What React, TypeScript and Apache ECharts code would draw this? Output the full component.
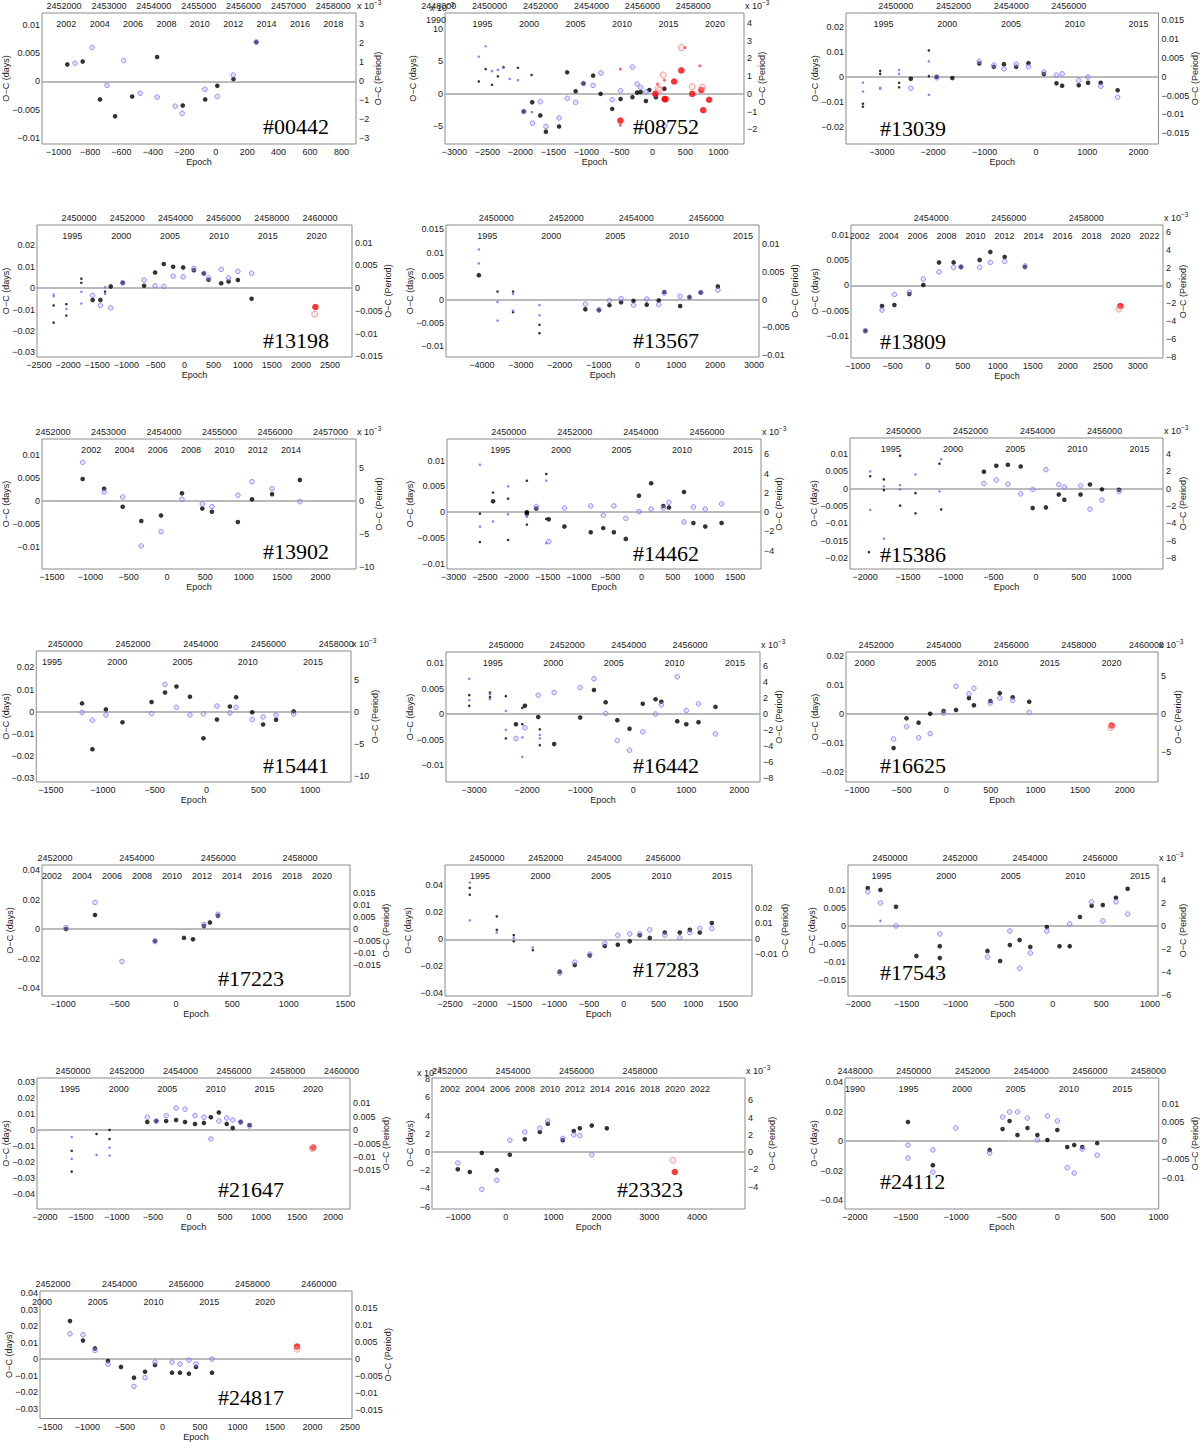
import React, { useEffect, useRef } from "react";
import * as echarts from "echarts";

type Pt = [number, number];

// ---------------- data (epoch, O-C days) ----------------
// #00442
const d00442Black: Pt[] = [[-945,0.0030],[-847,0.0035],[-737,-0.0032],[-641,-0.0062],[-532,-0.0027],[-373,0.0043],[-210,-0.0043],[-67,-0.0032],[10,-0.0008],[113,0.0004],[258,0.0069]];
const d00442Blue: Pt[] = [[-896,0.0032],[-787,0.0060],[-692,-0.0007],[-586,0.0037],[-481,-0.0021],[-373,-0.0028],[-258,-0.0044],[-214,-0.0057],[-69,-0.0014],[10,-0.0027],[111,0.0011],[258,0.0070]];
// #08752
const d08752BlackS: Pt[] = [[-2630,0.0019],[-2526,0.0038],[-2431,0.0014],[-2341,0.0027],[-2256,0.0041],[-2038,0.0040],[-1830,0.0029]];
const d08752Black: Pt[] = [[-1949,-0.0027],[-1821,-0.0013],[-1698,-0.0033],[-1613,-0.0058],[-1414,-0.0050],[-1291,0.0033],[-1163,0.0004],[-1045,0.0016],[-898,0.0028],[-784,0.0000],[-609,-0.0023],[-482,-0.0008],[-302,-0.0005],[-231,0.0002],[-178,0.0003],[-98,-0.0011],[-46,0.0006],[54,-0.0005],[182,0.0008]];
const d08752Blue: Pt[] = [[-1949,-0.0027],[-1816,-0.0045],[-1698,-0.0012],[-1613,-0.0050],[-1414,-0.0037],[-1291,-0.0007],[-1163,-0.0013],[-1045,0.0016],[-898,0.0013],[-779,0.0032],[-609,-0.0009],[-482,0.0005],[-302,0.0041],[-231,0.0015],[-178,0.0010],[-98,0.0003],[54,-0.0001],[186,-0.0049]];
const d08752BlueS: Pt[] = [[-2630,0.0057],[-2526,0.0073],[-2431,0.0035],[-2341,0.0037],[-2256,0.0040],[-2162,0.0023],[-2038,0.0021],[-1826,-0.0028]];
const d08752Red: Pt[] = [[-486,-0.0041],[44,0.0000],[182,-0.0008],[201,-0.0008],[329,0.0019],[438,0.0036],[604,0.0000],[741,0.0006],[770,-0.0025],[860,-0.0009]];
const d08752RedO: Pt[] = [[438,0.0071],[163,0.0029],[90,0.0008],[109,0.0006],[604,0.0011],[756,0.0010]];
const d08752RedS: Pt[] = [[-486,0.0038],[-486,-0.0048],[78,0.0015],[182,0.0021],[494,0.0071],[718,0.0043]];
// #13039
const d13039BlackS: Pt[] = [[-3369,-0.0108],[-3369,-0.0120],[-3033,0.0024],[-3033,0.0012],[-2664,-0.0024],[-2664,-0.0042],[-2085,0.0106],[-2085,0.0003]];
const d13039BlueS: Pt[] = [[-3369,-0.0023],[-3369,-0.0059],[-3033,-0.0044],[-3033,-0.0048],[-2664,0.0028],[-2664,0.0012],[-2085,0.0062],[-2085,-0.0072]];
const d13039Black: Pt[] = [[-2437,-0.0008],[-1933,0.0000],[-1628,-0.0005],[-1104,0.0054],[-819,0.0040],[-623,0.0051],[-384,0.0040],[-145,0.0055],[155,0.0011],[401,-0.0026],[511,-0.0036],[835,-0.0034],[1016,-0.0024],[1262,-0.0024],[1592,-0.0054]];
const d13039Blue: Pt[] = [[-2437,-0.0046],[-1933,-0.0004],[-1104,0.0062],[-819,0.0047],[-623,0.0032],[-384,0.0051],[-145,0.0040],[155,0.0019],[401,0.0007],[511,0.0012],[835,-0.0015],[1016,-0.0001],[1262,-0.0038],[1592,-0.0082]];
// #13198
const d13198BlackS: Pt[] = [[-2248,-0.0081],[-2248,-0.0161],[-2030,-0.0075],[-2030,-0.0128],[-1772,0.0044],[-1772,0.0025],[-1365,-0.0016]];
const d13198BlueS: Pt[] = [[-2248,-0.0030],[-2248,-0.0038],[-2030,-0.0097],[-1772,-0.0017],[-1772,-0.0072],[-1365,0.0005],[-1365,-0.0027]];
const d13198Black: Pt[] = [[-1577,-0.0055],[-1445,-0.0055],[-1267,0.0008],[-1061,0.0025],[-694,0.0011],[-505,0.0073],[-356,0.0113],[-195,0.0100],[-23,0.0097],[161,0.0084],[333,0.0069],[413,0.0039],[631,0.0023],[757,0.0031],[917,0.0038],[1153,-0.0050]];
const d13198Blue: Pt[] = [[-1577,-0.0034],[-1445,-0.0080],[-1267,-0.0092],[-1061,0.0025],[-694,0.0038],[-505,0.0011],[-356,0.0008],[-195,0.0056],[-23,0.0053],[161,0.0092],[333,0.0069],[413,0.0048],[631,0.0088],[757,0.0048],[917,0.0078],[1153,0.0070]];
const d13198Red: Pt[] = [[2248,-0.0088]];
const d13198RedO: Pt[] = [[2237,-0.0122]];
// #13567
const d13567BlackS: Pt[] = [[-3600,0.0017],[-3200,0.0017],[-3200,-0.0027],[-2520,-0.0054],[-2520,-0.0072]];
const d13567BlueS: Pt[] = [[-4080,0.0107],[-4080,0.0077],[-3600,-0.0005],[-3600,-0.0045],[-3200,0.0012],[-3200,-0.0024],[-2520,-0.0012],[-2520,-0.0034]];
const d13567Black: Pt[] = [[-4080,0.0052],[-1340,-0.0021],[-990,-0.0023],[-720,-0.0012],[-420,-0.0006],[-100,-0.0003],[240,-0.0011],[550,-0.0002],[690,0.0016],[1100,-0.0014],[1340,0.0005],[1630,0.0015],[2070,0.0028]];
const d13567Blue: Pt[] = [[-1340,-0.0010],[-990,-0.0022],[-720,-0.0002],[-420,0.0002],[-100,-0.0012],[240,0.0001],[550,-0.0011],[690,0.0014],[1100,0.0007],[1340,0.0005],[1630,0.0015],[2070,0.0020]];
// #13809
const d13809Black: Pt[] = [[-890,-0.0091],[-652,-0.0041],[-475,-0.0039],[-262,-0.0017],[-62,0.0001],[162,0.0046],[371,0.0046],[476,0.0037],[743,0.0051],[895,0.0067],[1100,0.0057],[1390,0.0037]];
const d13809Blue: Pt[] = [[-890,-0.0090],[-652,-0.0049],[-475,-0.0018],[-262,-0.0013],[-62,0.0013],[162,0.0027],[371,0.0036],[476,0.0037],[743,0.0036],[895,0.0046],[1100,0.0048],[1390,0.0039]];
const d13809Red: Pt[] = [[2752,-0.0041]];
const d13809RedO: Pt[] = [[2733,-0.0047]];
// #13902
const d13902Black: Pt[] = [[-1100,0.0048],[-820,0.0027],[-578,-0.0012],[-335,-0.0043],[-78,-0.0031],[195,0.0017],[460,-0.0016],[585,-0.0023],[924,-0.0045],[1108,0.0004],[1370,0.0015],[1732,0.0046]];
const d13902Blue: Pt[] = [[-1100,0.0084],[-820,0.0020],[-578,0.0009],[-335,-0.0097],[-78,-0.0066],[195,0.0004],[460,-0.0006],[585,-0.0012],[924,0.0013],[1108,0.0042],[1370,0.0027],[1732,-0.0001]];
// #14462
const d14462BlackS: Pt[] = [[-2580,-0.0003],[-2580,-0.0058],[-2370,0.0038],[-2130,0.0026],[-2130,-0.0054],[-1830,0.0061],[-1830,-0.0024],[-1520,0.0074],[-1520,-0.0013]];
const d14462Black: Pt[] = [[-2370,0.0021],[-1830,0.0000],[-1830,-0.0003],[-1680,0.0007],[-1480,-0.0014],[-1230,-0.0028],[-810,-0.0039],[-610,-0.0031],[-440,-0.0039],[-250,-0.0052],[-40,0.0032],[155,0.0056],[350,0.0012],[440,0.0009],[680,0.0039],[830,-0.0021],[1020,-0.0028],[1280,-0.0021]];
const d14462BlueS: Pt[] = [[-2580,0.0092],[-2580,-0.0028],[-2370,-0.0018],[-2130,0.0050],[-2130,-0.0004],[-1830,-0.0007],[-1830,-0.0009],[-1520,0.0061],[-1520,-0.0060]];
const d14462Blue: Pt[] = [[-1680,0.0011],[-1480,-0.0057],[-1230,0.0008],[-810,0.0012],[-610,-0.0006],[-440,0.0012],[-250,-0.0012],[-40,0.0001],[155,0.0006],[350,0.0008],[440,0.0019],[680,-0.0019],[830,0.0010],[1020,0.0006],[1280,0.0016]];
// #15386
const d15386BlackS: Pt[] = [[-1940,0.0036],[-1780,0.0027],[-1780,-0.0004],[-1590,0.0095],[-1590,-0.0049],[-1410,-0.0013],[-1410,-0.0071],[-1130,0.0072],[-1110,-0.0060],[-1955,-0.0183]];
const d15386BlueS: Pt[] = [[-1940,0.0050],[-1940,-0.0061],[-1780,0.0007],[-1780,-0.0144],[-1590,0.0010],[-1590,-0.0002],[-1410,0.0041],[-1110,0.0085],[-1130,-0.0008]];
const d15386Black: Pt[] = [[-610,0.0049],[-465,0.0066],[-330,0.0069],[-180,0.0064],[-40,-0.0056],[115,-0.0054],[265,-0.0017],[330,-0.0032],[520,-0.0017],[630,0.0012],[770,-0.0002],[970,-0.0003]];
const d15386Blue: Pt[] = [[-610,0.0015],[-465,0.0025],[-330,0.0013],[-180,-0.0015],[-40,-0.0002],[115,0.0055],[265,0.0012],[330,0.0005],[520,0.0009],[630,-0.0059],[770,-0.0033],[970,-0.0008]];
// #15441
const d15441Black: Pt[] = [[-1200,0.0038],[-1100,-0.0168],[-970,0.0011],[-810,-0.0047],[-530,0.0044],[-400,0.0087],[-290,0.0114],[-160,0.0068],[-30,-0.0119],[100,-0.0035],[225,0.0024],[285,0.0066],[440,-0.0002],[545,-0.0057],[670,-0.0036],[840,0.0002]];
const d15441Blue: Pt[] = [[-1200,-0.0003],[-1100,-0.0038],[-970,-0.0014],[-530,-0.0008],[-400,0.0123],[-290,0.0020],[-160,-0.0014],[-30,-0.0009],[100,0.0026],[225,-0.0005],[285,0.0020],[440,-0.0035],[545,-0.0023],[670,-0.0015],[840,-0.0010]];
// #16442
const d16442BlackS: Pt[] = [[-3090,0.0037],[-3090,0.0016],[-2700,0.0042],[-2700,0.0033],[-2400,0.0035],[-2400,-0.0048],[-2090,0.0012],[-2090,-0.0020],[-1760,-0.0030],[-1760,-0.0061]];
const d16442BlueS: Pt[] = [[-3090,0.0069],[-3090,0.0027],[-2700,0.0039],[-2700,0.0029],[-2400,0.0006],[-2400,-0.0031],[-2090,-0.0046],[-2090,-0.0084],[-1760,-0.0041],[-1760,-0.0048]];
const d16442Black: Pt[] = [[-2210,-0.0020],[-2040,0.0016],[-1790,-0.0006],[-1490,-0.0059],[-1000,-0.0007],[-740,0.0047],[-520,0.0023],[-300,-0.0012],[-70,-0.0029],[180,0.0020],[420,0.0029],[530,0.0024],[830,-0.0014],[1000,-0.0020],[1230,-0.0016],[1550,0.0014]];
const d16442Blue: Pt[] = [[-2210,-0.0048],[-2040,-0.0027],[-1790,0.0037],[-1490,0.0042],[-1000,0.0052],[-740,0.0069],[-520,0.0001],[-300,-0.0052],[-70,-0.0071],[180,-0.0035],[420,0.0000],[530,0.0018],[830,0.0073],[1000,0.0007],[1230,0.0020],[1550,-0.0039]];
// #16625
const d16625Black: Pt[] = [[-590,-0.0118],[-445,-0.0015],[-310,-0.0030],[-180,0.0001],[-30,0.0010],[110,0.0014],[255,0.0055],[310,0.0030],[495,0.0045],[600,0.0072],[745,0.0058],[930,0.0042]];
const d16625Blue: Pt[] = [[-590,-0.0087],[-445,-0.0044],[-310,-0.0082],[-180,-0.0068],[-30,0.0003],[110,0.0096],[255,0.0070],[310,0.0089],[495,0.0038],[600,0.0055],[745,0.0047],[930,0.0006]];
const d16625Red: Pt[] = [[1853,-0.0040]];
const d16625RedO: Pt[] = [[1845,-0.0047]];
// #17223
const d17223Black: Pt[] = [[-975,0.0000],[-718,0.0095],[-186,-0.0080],[71,-0.0060],[151,-0.0070],[248,0.0020],[301,0.0045],[372,0.0090]];
const d17223Blue: Pt[] = [[-975,0.0010],[-718,0.0180],[-479,-0.0220],[-186,-0.0085],[248,0.0030],[372,0.0100]];
// #17283
const d17283BlackS: Pt[] = [[-2216,0.038],[-2216,0.033],[-1827,0.017],[-1827,0.007],[-1583,0.003],[-1583,-0.0015],[-1309,-0.008]];
const d17283BlueS: Pt[] = [[-2216,0.042],[-2216,0.014],[-1827,0.005],[-1583,0.001],[-1309,-0.006]];
const d17283Black: Pt[] = [[-921,-0.024],[-705,-0.019],[-489,-0.012],[-273,-0.005],[-86,-0.004],[86,-0.0015],[230,0.003],[374,0.001],[590,0.005],[806,0.005],[950,0.007],[1094,0.005],[1267,0.012]];
const d17283Blue: Pt[] = [[-921,-0.025],[-705,-0.017],[-489,-0.011],[-273,-0.003],[-86,0.003],[86,0.004],[230,0.004],[374,0.007],[590,0.003],[806,0.001],[950,0.005],[1094,0.008],[1267,0.008]];
// #17543
const d17543Black: Pt[] = [[-1900,0.0105],[-1770,0.0100],[-1610,0.0053],[-1400,-0.0083],[-1160,-0.0056],[-1160,-0.0089],[-670,-0.0069],[-540,-0.0097],[-440,-0.0053],[-340,-0.0039],[-230,-0.0058],[-60,-0.0003],[70,-0.0056],[175,-0.0056],[280,0.0025],[400,0.0056],[515,0.0058],[650,0.0078],[770,0.0103]];
const d17543Blue: Pt[] = [[-1900,0.0095],[-1770,0.0064],[-1610,0.0000],[-1160,-0.0022],[-670,-0.0086],[-440,-0.0014],[-340,-0.0117],[-230,-0.0075],[-60,-0.0014],[175,0.0006],[400,0.0067],[515,0.0014],[650,0.0067],[770,0.0033]];
const d17543BlueS: Pt[] = [[-1770,0.0014],[-1160,-0.0136]];
// #21647
const d21647BlackS: Pt[] = [[-1628,-0.0130],[-1628,-0.0260],[-1283,-0.0025],[-1103,-0.0056],[-1103,0.0000]];
const d21647BlueS: Pt[] = [[-1628,-0.0044],[-1628,-0.0180],[-1283,-0.0156],[-1103,-0.0110],[-1103,-0.0160]];
const d21647Black: Pt[] = [[-579,0.0050],[-455,0.0056],[-317,0.0056],[-179,0.0062],[-55,0.0050],[83,0.0038],[207,0.0044],[303,0.0080],[414,0.0110],[524,0.0038],[607,0.0012],[717,0.0050],[841,0.0031]];
const d21647Blue: Pt[] = [[-579,0.0080],[-455,0.0056],[-317,0.0090],[-179,0.0137],[-55,0.0130],[83,0.0090],[207,0.0080],[303,-0.0056],[414,0.0056],[524,0.0075],[607,0.0062],[717,0.0050],[841,0.0025]];
const d21647Red: Pt[] = [[1724,-0.0110]];
const d21647RedO: Pt[] = [[1710,-0.0115]];
// #23323
const d23323Black: Pt[] = [[-1004,-0.0019],[-753,-0.0022],[-502,-0.0001],[-188,-0.0020],[84,-0.0003],[397,0.0014],[711,0.0022],[878,0.0031],[1192,0.0013],[1422,0.0023],[1548,0.0026],[1799,0.0029],[2113,0.0026]];
const d23323Blue: Pt[] = [[-1004,-0.0012],[-502,-0.0041],[-188,-0.0031],[84,0.0013],[397,0.0022],[711,0.0026],[878,0.0034],[1192,0.0015],[1422,0.0019],[1548,0.0018],[1799,-0.0003]];
const d23323Red: Pt[] = [[3535,-0.0022]];
const d23323RedO: Pt[] = [[3494,-0.0009]];
// #24112
const d24112Black: Pt[] = [[-1476,0.0129],[-1230,-0.0163],[-669,-0.0060],[-541,0.0081],[-472,0.0136],[-394,0.0041],[-295,0.0088],[-197,0.0041],[-98,0.0007],[0,0.0075],[98,-0.0040],[167,-0.0027],[246,-0.0040],[394,-0.0014]];
const d24112Blue: Pt[] = [[-1476,-0.0027],[-1476,-0.0115],[-1230,-0.0060],[-1230,-0.0210],[-1004,0.0088],[-669,-0.0081],[-541,0.0163],[-472,0.0197],[-394,0.0197],[-295,0.0156],[-197,0.0007],[-98,0.0170],[0,0.0136],[98,-0.0180],[167,-0.0217],[246,-0.0054],[394,-0.0095]];
// #24817
const d24817Black: Pt[] = [[-1233,0.0230],[-1060,0.0112],[-900,0.0065],[-727,-0.0012],[-553,-0.0047],[-380,-0.0112],[-233,-0.0076],[-100,-0.0035],[127,-0.0082],[233,-0.0082],[353,-0.0088],[447,-0.0047],[660,-0.0082]];
const d24817Blue: Pt[] = [[-1233,0.0153],[-1060,0.0147],[-900,0.0053],[-727,-0.0030],[-380,-0.0165],[-233,-0.0112],[-100,-0.0018],[127,-0.0018],[233,-0.0030],[353,-0.0006],[447,-0.0030],[660,0.0000]];
const d24817Red: Pt[] = [[1793,0.0076]];
const d24817RedO: Pt[] = [[1793,0.0060]];

// ---------------- tick label lists ----------------
const tEp00442 = [-1000,-800,-600,-400,-200,0,200,400,600,800];
const tJd00442 = [2452000,2453000,2454000,2455000,2456000,2457000,2458000];
const tYr00442 = [2002,2004,2006,2008,2010,2012,2014,2016,2018];
const tEp08752 = [-3000,-2500,-2000,-1500,-1000,-500,0,500,1000];
const tJd08752 = [2448000,2450000,2452000,2454000,2456000,2458000];
const tYr08752 = [1990,1995,2000,2005,2010,2015,2020];
const tEp13039 = [-3000,-2000,-1000,0,1000,2000];
const tJdA = [2450000,2452000,2454000,2456000];
const tYrA = [1995,2000,2005,2010,2015];
const tEp13198 = [-2500,-2000,-1500,-1000,-500,0,500,1000,1500,2000,2500];
const tJd13198 = [2450000,2452000,2454000,2456000,2458000,2460000];
const tYr13198 = [1995,2000,2005,2010,2015,2020];
const tEp13567 = [-4000,-3000,-2000,-1000,0,1000,2000,3000];
const tEp13809 = [-1000,-500,0,500,1000,1500,2000,2500,3000];
const tJd13809 = [2454000,2456000,2458000];
const tYr13809 = [2002,2004,2006,2008,2010,2012,2014,2016,2018,2020,2022];
const tEp13902 = [-1500,-1000,-500,0,500,1000,1500,2000];
const tJd13902 = [2452000,2453000,2454000,2455000,2456000,2457000];
const tYr13902 = [2002,2004,2006,2008,2010,2012,2014];
const tEp14462 = [-3000,-2500,-2000,-1500,-1000,-500,0,500,1000,1500];
const tEp15386 = [-2000,-1500,-1000,-500,0,500,1000,1500];
const tEp15441 = [-1500,-1000,-500,0,500,1000];
const tJd15441 = [2450000,2452000,2454000,2456000,2458000];
const tEp16442 = [-3000,-2000,-1000,0,1000,2000];
const tEp16625 = [-1000,-500,0,500,1000,1500,2000];
const tJd16625 = [2452000,2454000,2456000,2458000,2460000];
const tYr16625 = [2000,2005,2010,2015,2020];
const tEp17223 = [-1000,-500,0,500,1000,1500];
const tJd17223 = [2452000,2454000,2456000,2458000];
const tYr17223 = [2002,2004,2006,2008,2010,2012,2014,2016,2018,2020];
const tEp17283 = [-2500,-2000,-1500,-1000,-500,0,500,1000,1500];
const tEp17543 = [-2000,-1500,-1000,-500,0,500,1000];
const tEp21647 = [-2000,-1500,-1000,-500,0,500,1000,1500,2000];
const tJd21647 = [2450000,2452000,2454000,2456000,2458000,2460000];
const tYr21647 = [1995,2000,2005,2010,2015,2020];
const tEp23323 = [-1000,0,1000,2000,3000,4000];
const tJd23323 = [2452000,2454000,2456000,2458000];
const tYr23323 = [2002,2004,2006,2008,2010,2012,2014,2016,2018,2020,2022];
const tEp24112 = [-2000,-1500,-1000,-500,0,500,1000];
const tJd24112 = [2448000,2450000,2452000,2454000,2456000,2458000];
const tYr24112 = [1990,1995,2000,2005,2010,2015];
const tEp24817 = [-1500,-1000,-500,0,500,1000,1500,2000,2500];
const tJd24817 = [2452000,2454000,2456000,2458000,2460000];
const tYr24817 = [2000,2005,2010,2015,2020];

const tD01 = [-0.01,-0.005,0,0.005,0.01];
const tD02 = [-0.02,-0.01,0,0.01,0.02];
const tD03 = [-0.03,-0.02,-0.01,0,0.01,0.02];
const tD04 = [-0.04,-0.02,0,0.02,0.04];
const tP3a = [-0.003,-0.002,-0.001,0,0.001,0.002,0.003];
const tP08752 = [-0.002,-0.001,0,0.001,0.002,0.003,0.004];
const tD08752 = [-0.005,0,0.005,0.01];
const tP015 = [-0.015,-0.01,-0.005,0,0.005,0.01,0.015];
const tP13198 = [-0.015,-0.01,-0.005,0,0.005,0.01];
const tD13567 = [-0.01,-0.005,0,0.005,0.01,0.015];
const tP13567 = [-0.01,-0.005,0,0.005,0.01];
const tP8to6 = [-0.008,-0.006,-0.004,-0.002,0,0.002,0.004,0.006];
const tP10to5 = [-0.01,-0.005,0,0.005];
const tP14462 = [-0.004,-0.002,0,0.002,0.004,0.006];
const tD15386 = [-0.02,-0.015,-0.01,-0.005,0,0.005,0.01];
const tP15386 = [-0.008,-0.006,-0.004,-0.002,0,0.002,0.004];
const tP16625 = [-0.005,0,0.005];
const tP17283 = [-0.01,0,0.01,0.02];
const tD17543 = [-0.015,-0.01,-0.005,0,0.005,0.01];
const tP17543 = [-0.006,-0.004,-0.002,0,0.002,0.004];
const tD21647 = [-0.04,-0.03,-0.02,-0.01,0,0.01,0.02,0.03];
const tD23323 = [-0.006,-0.004,-0.002,0,0.002,0.004,0.006,0.008];
const tP23323 = [-0.004,-0.002,0,0.002,0.004,0.006];
const tD24817 = [-0.03,-0.02,-0.01,0,0.01,0.02,0.03,0.04];

// ---------------- panel layout ----------------
interface Panel {
  name: string;
  box: number[]; // left, top, right, bottom (px)
  ep: number[]; epT: number[];
  jd: number[]; jdT: number[];
  yr: number[]; yrT: number[];
  d: number[]; dT: number[]; dExp?: boolean;
  p: number[]; pT: number[]; pExp?: boolean;
  gl: number; gr: number;
  title: number[];
  black?: Pt[]; blackS?: Pt[]; blue?: Pt[]; blueS?: Pt[]; red?: Pt[]; redO?: Pt[]; redS?: Pt[];
}

const PANELS: Panel[] = [
  { name: "#00442", box: [42,13,356,144], ep: [-1106,893], epT: tEp00442, jd: [2451509,2458506], jdT: tJd00442, yr: [2000.54,2019.36], yrT: tYr00442,
    d: [-0.0111,0.0121], dT: tD01, p: [-0.0033,0.00358], pT: tP3a, pExp: true, gl: 24, gr: 17, title: [263,126],
    black: d00442Black, blue: d00442Blue },
  { name: "#08752", box: [445,13,744,144], ep: [-3142,1388], epT: tEp08752, jd: [2448249,2459990], jdT: tJd08752, yr: [1990.97,2023.12], yrT: tYr08752,
    d: [-0.00769,0.01241], dT: tD08752, dExp: true, p: [-0.00283,0.00457], pT: tP08752, pExp: true, gl: 27, gr: 13, title: [633,126],
    black: d08752Black, blackS: d08752BlackS, blue: d08752Blue, blueS: d08752BlueS, red: d08752Red, redO: d08752RedO, redS: d08752RedS },
  { name: "#13039", box: [846,13,1159,144], ep: [-3699,2388], epT: tEp13039, jd: [2448273,2459109], jdT: tJdA, yr: [1992.06,2016.56], yrT: tYrA,
    d: [-0.02698,0.02564], dT: tD02, p: [-0.01785,0.01696], pT: tP015, gl: 26, gr: 31, title: [880,128],
    black: d13039Black, blackS: d13039BlackS, blue: d13039Blue, blueS: d13039BlueS },
  { name: "#13198", box: [37,225,352,357], ep: [-2534,2878], epT: tEp13198, jd: [2448256,2461329], jdT: tJd13198, yr: [1991.38,2023.62], yrT: tYr13198,
    d: [-0.03219,0.02953], dT: tD03, p: [-0.01515,0.0139], pT: tP13198, gl: 25, gr: 29, title: [263,340],
    black: d13198Black, blackS: d13198BlackS, blue: d13198Blue, blueS: d13198BlueS, red: d13198Red, redO: d13198RedO },
  { name: "#13567", box: [446,225,759,357], ep: [-4926,3129], epT: tEp13567, jd: [2448562,2457505], jdT: tJdA, yr: [1991.77,2016.25], yrT: tYrA,
    d: [-0.01229,0.01593], dT: tD13567, p: [-0.01036,0.01343], pT: tP13567, gl: 31, gr: 31, title: [633,340],
    black: d13567Black, blackS: d13567BlackS, blue: d13567Blue, blueS: d13567BlueS },
  { name: "#13809", box: [851,225,1163,358], ep: [-1095,3362], epT: tEp13809, jd: [2451927,2459978], jdT: tJd13809, yr: [2001.4,2022.94], yrT: tYr13809,
    d: [-0.01447,0.01207], dT: tD01, p: [-0.00816,0.0068], pT: tP8to6, pExp: true, gl: 29, gr: 15, title: [880,341],
    black: d13809Black, blue: d13809Blue, red: d13809Red, redO: d13809RedO },
  { name: "#13902", box: [42,439,356,569], ep: [-1630,2464], epT: tEp13902, jd: [2451802,2457461], jdT: tJd13902, yr: [1999.05,2017.9], yrT: tYr13902,
    d: [-0.01468,0.01345], dT: tD01, p: [-0.0103,0.00944], pT: tP10to5, pExp: true, gl: 30, gr: 18, title: [263,551],
    black: d13902Black, blue: d13902Blue },
  { name: "#14462", box: [447,439,761,569], ep: [-3106,1910], epT: tEp14462, jd: [2448135,2457634], jdT: tJdA, yr: [1990.6,2016.51], yrT: tYrA,
    d: [-0.01103,0.01419], dT: tD01, p: [-0.0059,0.00759], pT: tP14462, pExp: true, gl: 32, gr: 13, title: [633,553],
    black: d14462Black, blackS: d14462BlackS, blue: d14462Blue, blueS: d14462BlueS },
  { name: "#15386", box: [850,438,1163,569], ep: [-2176,1484], epT: tEp15386, jd: [2448408,2457741], jdT: tJdA, yr: [1991.73,2016.88], yrT: tYrA,
    d: [-0.02317,0.01462], dT: tD15386, p: [-0.00927,0.00585], pT: tP15386, pExp: true, gl: 30, gr: 15, title: [880,554],
    black: d15386Black, blackS: d15386BlackS, blue: d15386Blue, blueS: d15386BlueS },
  { name: "#15441", box: [36,651,351,782], ep: [-1641,1392], epT: tEp15441, jd: [2449144,2458433], jdT: tJd15441, yr: [1993.8,2017.91], yrT: tYrA,
    d: [-0.03158,0.02737], dT: tD03, p: [-0.01088,0.00943], pT: tP10to5, pExp: true, gl: 24, gr: 19, title: [263,765],
    black: d15441Black, blue: d15441Blue },
  { name: "#16442", box: [446,652,760,782], ep: [-3528,2389], epT: tEp16442, jd: [2448043,2458283], jdT: tJdA, yr: [1991.15,2017.06], yrT: tYrA,
    d: [-0.01333,0.01216], dT: tD01, p: [-0.0085,0.00775], pT: tP8to6, pExp: true, gl: 29, gr: 14, title: [633,765],
    black: d16442Black, blackS: d16442BlackS, blue: d16442Blue, blueS: d16442BlueS },
  { name: "#16625", box: [846,652,1158,782], ep: [-1123,2373], epT: tEp16625, jd: [2451108,2460343], jdT: tJd16625, yr: [1998.49,2023.77], yrT: tYr16625,
    d: [-0.02353,0.02145], dT: tD02, p: [-0.00899,0.00819], pT: tP16625, pExp: true, gl: 26, gr: 15, title: [880,765],
    black: d16625Black, blue: d16625Blue, red: d16625Red, redO: d16625RedO },
  { name: "#17223", box: [42,865,350,996], ep: [-1188,1543], epT: tEp17223, jd: [2451682,2459225], jdT: tJd17223, yr: [2001.33,2021.87], yrT: tYr17223,
    d: [-0.0454,0.0434], dT: tD04, p: [-0.0279,0.0267], pT: tP015, gl: 27, gr: 28, title: [218,978],
    black: d17223Black, blue: d17223Blue },
  { name: "#17283", box: [445,865,752,996], ep: [-2572,1845], epT: tEp17283, jd: [2448569,2459032], jdT: tJdA, yr: [1992.1,2017.48], yrT: tYrA,
    d: [-0.042,0.055], dT: tD04, p: [-0.0368,0.0477], pT: tP17283, gl: 32, gr: 28, title: [633,969],
    black: d17283Black, blackS: d17283BlackS, blue: d17283Blue, blueS: d17283BlueS },
  { name: "#17543", box: [848,865,1158,996], ep: [-2103,1082], epT: tEp17543, jd: [2448800,2457657], jdT: tJdA, yr: [1992.4,2016.4], yrT: tYrA,
    d: [-0.0194,0.0169], dT: tD17543, p: [-0.00609,0.0053], pT: tP17543, pExp: true, gl: 30, gr: 20, title: [880,972],
    black: d17543Black, blue: d17543Blue, blueS: d17543BlueS },
  { name: "#21647", box: [37,1078,350,1209], ep: [-2110,2235], epT: tEp21647, jd: [2448657,2460318], jdT: tJd21647, yr: [1991.6,2023.8], yrT: tYr21647,
    d: [-0.0494,0.0325], dT: tD21647, p: [-0.0293,0.0193], pT: tP13198, gl: 22, gr: 28, title: [218,1189],
    black: d21647Black, blackS: d21647BlackS, blue: d21647Blue, blueS: d21647BlueS, red: d21647Red, redO: d21647RedO },
  { name: "#23323", box: [432,1078,745,1209], ep: [-1544,5004], epT: tEp23323, jd: [2451449,2461307], jdT: tJd23323, yr: [2000.56,2025.6], yrT: tYr23323,
    d: [-0.00626,0.00813], dT: tD23323, dExp: true, p: [-0.0066,0.0086], pT: tP23323, pExp: true, gl: 17, gr: 22, title: [617,1189],
    black: d23323Black, blue: d23323Blue, red: d23323Red, redO: d23323RedO },
  { name: "#24112", box: [845,1078,1160,1209], ep: [-2098,1002], epT: tEp24112, jd: [2447655,2458345], jdT: tJd24112, yr: [1989.07,2018.4], yrT: tYr24112,
    d: [-0.046,0.0427], dT: tD04, p: [-0.0184,0.017], pT: tP13567, gl: 25, gr: 25, title: [880,1181],
    black: d24112Black, blue: d24112Blue },
  { name: "#24817", box: [40,1291,352,1422], ep: [-1633,2527], epT: tEp24817, jd: [2451607,2460997], jdT: tJd24817, yr: [1999.82,2027.8], yrT: tYr24817,
    d: [-0.0359,0.0412], dT: tD24817, p: [-0.0174,0.02], pT: tP015, gl: 25, gr: 28, title: [218,1397],
    black: d24817Black, blue: d24817Blue, red: d24817Red, redO: d24817RedO },
];

// ---------------- styles ----------------
const FONT = '"Liberation Sans", Arial, Helvetica, sans-serif';
const SERIF = '"Liberation Serif", "Times New Roman", serif';
const TXT = "#1a1a1a";
const FS = 9;
const YMARGIN = 2;

const MARKS: Record<string, any> = {
  black: { symbolSize: 4.6, itemStyle: { color: "#000" }, z: 3 },
  blackS: { symbolSize: 2.6, itemStyle: { color: "#000" }, z: 3 },
  blue: { symbolSize: 4.6, itemStyle: { color: "rgba(150,150,255,0.35)", borderColor: "#7878ff", borderWidth: 1 }, z: 4 },
  blueS: { symbolSize: 2.6, itemStyle: { color: "#6c6cff" }, z: 4 },
  red: { symbolSize: 6.5, itemStyle: { color: "#ff0000" }, z: 5 },
  redO: { symbolSize: 6, itemStyle: { color: "rgba(255,190,190,0.35)", borderColor: "#ff7878", borderWidth: 1 }, z: 5 },
  redS: { symbolSize: 3, itemStyle: { color: "#ff4040" }, z: 5 },
};

function fmt(v: number, exp?: boolean): string {
  const n = exp ? Math.round(v * 1000) : parseFloat(v.toPrecision(6));
  return String(n).replace("-", "\u2212");
}

// approximate Arial/Liberation Sans advance widths
function textW(s: string, fs: number): number {
  let w = 0;
  for (const ch of s) {
    if (ch === ".") w += 0.278;
    else if (ch === "\u2212") w += 0.584;
    else w += 0.556;
  }
  return w * fs;
}

function labelCfg(vals: number[], f: (v: number) => string, extra: any = {}) {
  return { customValues: vals, formatter: f, fontSize: FS, color: TXT, fontFamily: FONT, ...extra };
}

function buildOption() {
  const grid: any[] = [];
  const xAxis: any[] = [];
  const yAxis: any[] = [];
  const series: any[] = [];
  const graphic: any[] = [];

  PANELS.forEach((p, i) => {
    const [l, t, r, b] = p.box;
    const w = r - l;
    grid.push({ left: l, top: t, width: w, height: b - t, show: true, borderColor: "#8a8a8a", borderWidth: 1, containLabel: false });
    const inRange = (vals: number[], rg: number[]) => vals.filter((v) => v >= rg[0] && v <= rg[1]);
    const outRange = (vals: number[], rg: number[]) => vals.filter((v) => v < rg[0] || v > rg[1]);
    const noLine = { show: false };
    const nameStyle = { fontSize: FS, color: TXT, fontFamily: FONT };
    const dVals = inRange(p.dT, p.d);
    const pVals = inRange(p.pT, p.p);
    const dW = Math.max(...dVals.map((v) => textW(fmt(v, p.dExp), FS)));
    const pW = Math.max(...pVals.map((v) => textW(fmt(v, p.pExp), FS)));
    const gapL = Math.max(p.gl + 0.5, dW + YMARGIN + 1.5);
    const gapR = Math.max(p.gr + 0.5, pW + YMARGIN + 1.5);

    // epoch (bottom)
    xAxis.push({
      type: "value", gridIndex: i, position: "bottom", min: p.ep[0], max: p.ep[1],
      axisLine: noLine, splitLine: noLine, axisTick: { show: false },
      axisLabel: labelCfg(inRange(p.epT, p.ep), (v) => fmt(v), { margin: 3.5 }),
      name: "Epoch", nameLocation: "middle", nameGap: 13.5, nameMoveOverlap: false,
      nameTextStyle: nameStyle,
    });
    // JD (top)
    xAxis.push({
      type: "value", gridIndex: i, position: "top", min: p.jd[0], max: p.jd[1],
      axisLine: noLine, splitLine: noLine, axisTick: { show: false },
      axisLabel: labelCfg(inRange(p.jdT, p.jd), (v) => String(Math.round(v)), { margin: 2.5 }),
    });
    // year (top, inside)
    xAxis.push({
      type: "value", gridIndex: i, position: "top", min: p.yr[0], max: p.yr[1],
      axisLine: noLine, splitLine: noLine, axisTick: { show: false },
      axisLabel: labelCfg(inRange(p.yrT, p.yr), (v) => String(Math.round(v)), { inside: true, margin: 6.5 }),
    });
    // days (left)
    yAxis.push({
      type: "value", gridIndex: i, position: "left", min: p.d[0], max: p.d[1],
      axisLine: noLine, splitLine: noLine, axisTick: { show: false },
      axisLabel: labelCfg(dVals, (v) => fmt(v, p.dExp), { margin: YMARGIN }),
      name: "O\u2212C (days)", nameLocation: "middle", nameRotate: 90, nameGap: gapL, nameMoveOverlap: false,
      nameTextStyle: nameStyle,
    });
    // period (right)
    yAxis.push({
      type: "value", gridIndex: i, position: "right", min: p.p[0], max: p.p[1],
      axisLine: noLine, splitLine: noLine, axisTick: { show: false },
      axisLabel: labelCfg(pVals, (v) => fmt(v, p.pExp), { margin: YMARGIN + 1 }),
      name: "O\u2212C (Period)", nameLocation: "middle", nameRotate: 90, nameGap: gapR, nameMoveOverlap: false,
      nameTextStyle: nameStyle,
    });

    const xi = i * 3;
    const yi = i * 2;
    const kinds: (keyof Panel)[] = ["black", "blackS", "blue", "blueS", "red", "redO", "redS"];
    let first = true;
    kinds.forEach((k) => {
      const data = p[k] as Pt[] | undefined;
      if (!data) return;
      const s: any = {
        type: "scatter", xAxisIndex: xi, yAxisIndex: yi, symbol: "circle", data, silent: true,
        ...MARKS[k as string],
      };
      if (first) {
        s.markLine = {
          silent: true, symbol: "none", label: { show: false }, z: 1,
          lineStyle: { color: "#a3a3a3", width: 1.6, type: "solid" },
          data: [{ yAxis: 0 }],
        };
        first = false;
      }
      series.push(s);
    });

    // labels that MATLAB drew outside the plot box (top axes)
    outRange(p.jdT, p.jd).forEach((v) => {
      const x = l + ((v - p.jd[0]) / (p.jd[1] - p.jd[0])) * w;
      graphic.push({ type: "text", x, y: t - 7, style: { text: String(v), fontSize: FS, fontFamily: FONT, fill: TXT, align: "center", verticalAlign: "middle" } });
    });
    outRange(p.yrT, p.yr).forEach((v) => {
      const x = l + ((v - p.yr[0]) / (p.yr[1] - p.yr[0])) * w;
      graphic.push({ type: "text", x, y: t + 6.5, style: { text: String(v), fontSize: FS, fontFamily: FONT, fill: TXT, align: "center", verticalAlign: "middle" } });
    });

    // exponent markers
    const exp = (x: number, y: number) => {
      graphic.push({ type: "text", x, y, z: 10, style: { text: "x 10", fontSize: FS, fontFamily: FONT, fill: TXT, align: "left", verticalAlign: "middle" } });
      graphic.push({ type: "text", x: x + 17, y: y - 4, z: 10, style: { text: "\u22123", fontSize: 6.5, fontFamily: FONT, fill: TXT, align: "left", verticalAlign: "middle" } });
    };
    if (p.pExp) exp(r + 1, t - 7);
    if (p.dExp) exp(l - 15, t - 5);

    // star label
    graphic.push({
      type: "text", x: p.title[0], y: p.title[1], z: 10,
      style: { text: p.name, fontSize: 22, fontFamily: SERIF, fill: "#000", align: "left", verticalAlign: "middle" },
    });
  });

  return {
    animation: false,
    backgroundColor: "#ffffff",
    textStyle: { fontFamily: FONT },
    grid, xAxis, yAxis, series, graphic,
  };
}

export default function App() {
  const ref = useRef<HTMLDivElement>(null);
  useEffect(() => {
    if (!ref.current) return;
    const chart = echarts.init(ref.current, null, { renderer: "svg" });
    chart.setOption(buildOption() as any);
    return () => chart.dispose();
  }, []);
  return (
    <div
      ref={ref}
      style={{ position: "absolute", left: 0, top: 0, width: 1200, height: 1442, background: "#fff" }}
    />
  );
}
